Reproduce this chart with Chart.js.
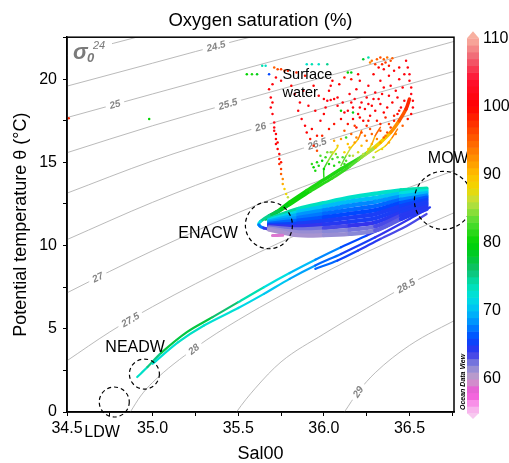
<!DOCTYPE html>
<html>
<head>
<meta charset="utf-8">
<script src="https://cdn.jsdelivr.net/npm/chart.js@4.4.1/dist/chart.umd.min.js"></script>
<style>
  html, body { margin: 0; padding: 0; background: #fff; }
</style>
</head>
<body>
<canvas id="tsChart" width="509" height="463"></canvas>
<script>
const FONT = "'Liberation Sans', Arial, Helvetica, sans-serif";

// isopycnals (sigma-0): [salinity, theta]
const sig240 = [[34.5,21.42],[34.77,22.15],[35.0,22.77],[35.5,24.04]];
const sig245 = [[34.5,19.58],[35.0,20.96],[35.5,22.34],[36.0,23.62]];
const sig250 = [[34.5,17.69],[35.0,19.11],[35.5,20.52],[36.0,21.91],[36.5,23.25],[36.8,24.03]];
const sig255 = [[34.5,15.58],[35.0,17.2],[35.5,18.68],[36.0,20.12],[36.5,21.53],[36.8,22.38]];
const sig260 = [[34.5,13.15],[35.0,15.09],[35.5,16.74],[36.0,18.27],[36.5,19.71],[36.8,20.58]];
const sig265 = [[34.5,10.36],[35.0,12.6],[35.5,14.56],[36.0,16.25],[36.5,17.84],[36.8,18.72]];
const sig270 = [[34.5,7.16],[34.75,8.45],[35.0,9.69],[35.5,11.98],[36.0,14.0],[36.5,15.81],[36.8,16.8]];
const sig275 = [[34.5,3.08],[34.75,4.81],[35.0,6.33],[35.5,8.99],[36.0,11.37],[36.5,13.5],[36.8,14.66]];
const sig280 = [[34.84,-0.5],[34.87,0],[34.93,0.96],[35.0,1.78],[35.25,3.86],[35.5,5.53],[36.0,8.36],[36.5,10.79],[36.8,12.15]];
const sig285 = [[35.46,-0.5],[35.49,0],[35.6,1.43],[35.75,3.01],[36.0,4.69],[36.25,6.23],[36.5,7.69],[36.8,9.2]];
const sig290 = [[36.1,-0.3],[36.12,0],[36.2,1.21],[36.3,2.36],[36.5,4.0],[36.8,5.7]];
const isoNames = ['24','24.5','25','25.5','26','26.5','27','27.5','28','28.5','29'];
const isoLines = [sig240, sig245, sig250, sig255, sig260, sig265, sig270, sig275, sig280, sig285, sig290];

// contour label spots (index into isoLines, salinity)
const isoLabelLevel = [1, 2, 3, 4, 5, 6, 7, 8, 9, 10];
const isoLabelS = [35.37, 34.78, 35.44, 35.63, 35.96, 34.68, 34.87, 35.24, 36.48, 36.2];

// oxygen saturation colour scale
const o2Stops = [55, 56.5, 58, 60, 62, 64, 66, 68, 70, 72, 74, 76, 78, 80, 83, 86, 88, 90, 92, 95, 98, 100, 104, 107, 110];
const o2Hex = ['#f8c8f0','#f890e8','#f050d8','#c8a0c8','#8888d8','#3434ec','#0048ff','#0088ff','#00bcf8','#00e0e0',
               '#00e0b0','#10c070','#00c830','#00d400','#50dc30','#c0e040','#f0d800','#ffc000','#ff9800','#ff6000',
               '#ff2800','#ff0000','#ff1030','#f06070','#f8b0a0'];
const cbTicks = [60, 70, 80, 90, 100, 110];

// ENACW / MOW body, one row per streak: [salinity, theta, O2 %]
const body0 = [[35.68,11.6,75],[35.85,12.2,74],[36.0,12.55,73],[36.15,12.88,73],[36.3,13.12,73],[36.45,13.32,73],[36.6,13.42,75]];
const body1 = [[35.68,11.53,72],[35.85,12.02,71],[36.0,12.34,70],[36.15,12.64,70],[36.3,12.87,70],[36.45,13.13,71],[36.6,13.28,73]];
const body2 = [[35.68,11.46,70],[35.85,11.85,69],[36.0,12.12,68],[36.15,12.4,68],[36.3,12.63,68],[36.45,12.94,69],[36.6,13.15,71]];
const body3 = [[35.68,11.38,69],[35.85,11.67,68],[36.0,11.91,67],[36.15,12.15,67],[36.3,12.38,67],[36.45,12.75,67],[36.6,13.01,69]];
const body4 = [[35.68,11.31,67],[35.85,11.5,67],[36.0,11.69,66],[36.15,11.91,66],[36.3,12.13,66],[36.45,12.56,66],[36.6,12.88,67]];
const body5 = [[35.68,11.24,66],[35.85,11.32,65],[36.0,11.48,65],[36.15,11.67,65],[36.3,11.89,65],[36.45,12.36,65],[36.6,12.74,66]];
const body6 = [[35.68,11.17,64],[35.85,11.15,64],[36.0,11.26,64],[36.15,11.43,65],[36.3,11.64,65],[36.45,12.17,65],[36.6,12.6,65]];
const body7 = [[35.68,11.1,63],[35.85,10.97,62],[36.0,11.05,63],[36.15,11.19,64],[36.3,11.39,64],[36.45,11.98,65],[36.6,12.47,65]];
const body8 = [[35.68,11.02,62],[35.85,10.8,61],[36.0,10.83,62],[36.15,10.94,62],[36.3,11.15,63],[36.45,11.79,64],[36.6,12.33,65]];
const body9 = [[35.68,10.95,61],[35.85,10.62,61],[36.0,10.62,61],[36.15,10.7,62],[36.3,10.9,62],[36.45,11.6,64],[36.6,12.2,65]];
const pinkPatch = [[35.7,10.6,58],[35.76,10.62,60]];
const nose = [[35.74,12.1,78],[35.68,11.8,76],[35.63,11.45,74],[35.62,11.25,70],[35.65,11.05,65],[35.72,10.95,63]];

// deep branch and thermocline: [salinity, theta, O2 %]
const deep1 = [[34.91,2.1,72],[34.97,2.7,74],[35.05,3.55,77],[35.2,4.8,78],[35.35,5.7,77],[35.5,6.6,75],[35.65,7.5,73],
               [35.8,8.35,71],[35.95,9.15,69],[36.1,9.9,67],[36.25,10.6,65],[36.4,11.3,64]];
const deep2 = [[35.0,2.9,72],[35.15,4.2,73],[35.3,5.2,73],[35.5,6.25,72],[35.65,7.1,71],[35.8,8.0,70],[35.95,8.8,68],
               [36.1,9.5,66],[36.3,10.5,64],[36.5,11.6,64],[36.62,12.3,65]];
const deep3 = [[35.95,8.6,68],[36.08,9.1,66],[36.2,9.7,65],[36.33,10.4,64],[36.47,11.1,63],[36.6,11.9,64]];
const thermo1 = [[35.66,11.6,76],[35.72,12.0,79],[35.8,12.6,80],[35.9,13.3,81],[36.0,13.95,81],[36.1,14.6,81],[36.2,15.2,82],
                 [36.27,15.7,85],[36.33,16.2,88],[36.39,16.8,91],[36.44,17.5,94],[36.48,18.2,97],[36.5,18.8,99]];
const thermo2 = [[35.7,11.8,78],[35.8,12.45,80],[35.92,13.25,81],[36.05,14.05,82],[36.15,14.75,82],[36.22,15.3,84],[36.3,15.9,87],[36.36,16.5,90]];
const fan1 = [[36.1,14.8,82],[36.13,15.4,85],[36.16,15.9,88],[36.2,16.4,91],[36.22,16.9,95]];
const fan2 = [[36.2,15.1,83],[36.25,15.6,86],[36.28,16.1,89],[36.3,16.6,93],[36.33,17.1,96]];
const fan3 = [[36.3,15.6,86],[36.36,16.0,89],[36.4,16.5,92],[36.43,17.0,95]];
const fan4 = [[36.0,14.1,81],[36.0,14.6,82],[36.02,15.0,83],[36.05,15.5,86],[36.08,15.9,89]];

// surface samples: [salinity, theta, O2 %]
const surfaceDots = [
  [35.68,19.4,101],[35.69,18.9,101],[35.69,18.3,101],[35.70,17.9,101],[35.71,17.4,102],[35.71,17.1,101],[35.72,16.7,101],
  [35.72,16.4,100],[35.72,16.1,101],[35.73,15.8,100],[35.74,15.5,100],[35.74,15.2,99],[35.74,14.9,98],[35.75,14.6,97],
  [35.75,14.3,95],[35.76,14.0,93],[35.76,13.7,91],[35.77,13.4,89],[35.78,13.1,88],[35.79,12.9,86],
  [35.70,18.6,100],[35.71,16.9,101],[35.73,16.2,100],[35.75,15.0,99],
  [35.71,20.7,95],[35.73,20.6,96],[35.75,20.6,97],[35.77,20.5,96],[35.79,20.5,98],[35.72,20.1,101],[35.70,19.7,101],[35.75,19.9,101],
  [35.55,20.3,80],[35.58,20.3,81],[35.61,20.3,79],[35.64,20.8,74],[35.66,20.8,73],[35.68,20.3,66],
  [35.90,20.9,73],[35.93,20.9,74],[35.97,20.9,73],[36.02,20.9,75],[36.14,20.4,80],[36.16,20.4,79],[36.23,21.2,78],[36.26,21.3,74],
  [36.28,21.1,94],[36.31,21.2,95],[36.33,21.3,96],[36.35,21.2,95],[36.37,21.3,94],[36.39,21.1,96],[36.36,21.0,97],[36.34,20.9,98],
  [36.30,20.9,97],[36.27,21.0,93],[36.40,21.25,95],[36.32,20.7,100],[36.35,20.6,101],[36.38,20.8,99],[36.41,20.5,101],
  [36.48,21.1,101],[36.49,20.7,101],[36.50,20.3,102],[36.50,19.9,101],[36.51,19.5,101],[36.51,19.1,102],[36.52,18.7,101],
  [36.52,18.3,101],[36.51,17.9,100],[36.49,17.6,99],
  [36.47,18.7,101],[36.45,18.3,101],[36.43,17.9,100],[36.41,17.5,99],[36.39,17.1,97],[36.37,16.8,96],[36.35,16.5,95],
  [36.15,19.1,101],[36.18,18.8,102],[36.22,18.6,101],[36.25,18.9,101],[36.28,18.4,100],[36.30,18.1,101],[36.33,18.5,101],
  [36.35,18.0,100],[36.27,17.8,101],[36.23,17.5,100],[36.20,17.9,101],[36.17,18.3,101],[36.12,18.0,101],[36.10,17.6,100],
  [36.14,17.3,99],[36.19,17.1,99],[36.25,17.2,98],[36.31,17.5,99],[36.36,17.7,98],[36.30,19.2,101],[36.35,19.5,101],
  [36.38,19.0,101],[36.40,18.6,100],[36.26,19.6,101],[36.21,19.9,101],[36.33,19.9,101],[36.38,20.2,101],[36.29,20.3,100],
  [36.24,18.2,101],[36.32,18.8,101],[36.37,18.3,100],[36.42,19.3,101],[36.44,20.0,101],[36.19,19.4,101],[36.09,19.7,100],[36.12,20.1,99],
  [36.16,18.6,101],[36.21,18.3,101],[36.26,18.5,101],[36.29,18.8,101],[36.34,19.1,101],[36.39,19.6,101],[36.43,18.9,101],
  [36.46,19.5,101],[36.47,20.3,101],[36.44,20.7,100],[36.24,19.2,101],[36.20,20.3,100],[36.16,20.0,99],[36.08,18.4,101],
  [36.11,18.6,101],[36.14,18.1,101],[36.06,17.3,99],[36.03,17.0,99],[35.99,16.6,98],[36.26,17.5,99],[36.33,17.3,98],
  [36.21,17.7,100],[36.17,17.6,100],[35.95,18.1,101],[35.97,19.0,101],[35.94,19.6,100],[35.89,20.2,99],[35.84,20.4,98],
  [36.00,18.8,101],[36.02,18.7,102],[36.04,18.75,102],[36.06,18.8,101],[36.08,18.9,101],[36.03,19.3,101],[36.04,19.6,101],
  [36.05,19.9,100],[36.01,18.3,101],[36.00,17.9,100],[35.98,17.5,101],
  [35.85,18.1,101],[35.87,17.6,101],[35.89,17.2,101],[35.90,16.8,100],[35.92,16.4,99],[35.94,16.0,98],[35.96,15.7,96],
  [35.86,18.6,101],[35.83,19.1,101],[35.81,19.6,100],[35.93,17.0,100],[35.96,16.6,99],[35.88,19.3,101],[35.91,18.4,101],
  [36.12,15.6,88],[36.15,15.9,90],[36.18,16.2,92],[36.22,16.0,90],[36.25,16.3,93],[36.28,16.1,91],[36.31,16.4,93],
  [36.33,16.2,92],[36.36,16.6,94],[36.20,15.6,87],[36.26,15.8,89],[36.30,15.9,90],[36.05,15.6,86],[36.08,16.0,89],
  [36.10,16.4,92],[36.16,16.7,95],[36.22,16.8,96],[36.28,16.7,95],
  [36.14,16.1,90],[36.19,16.5,93],[36.24,16.6,94],[36.27,17.0,96],[36.33,16.9,96],[36.38,17.3,97],[36.41,17.8,98],
  [36.44,18.1,99],[36.17,15.4,86],[36.23,15.5,86],[36.29,15.3,85],[36.34,15.8,88],[36.38,16.2,91],[36.42,16.7,93],
  [36.46,17.2,95],[36.06,16.3,91],[36.12,16.9,95],[36.18,17.2,97],
  [35.97,14.8,81],[35.99,15.1,80],[36.01,15.3,82],[36.03,14.9,81],[36.05,15.2,82],[36.07,15.5,84],[36.09,15.0,82],
  [36.11,15.3,83],[36.00,14.6,80],[35.95,14.5,81],[36.13,15.1,83],[36.04,15.6,85],[35.93,14.9,82],[35.98,15.4,83],
  [35.96,15.0,81],[36.02,15.6,84],[36.06,14.8,81],[36.08,15.3,83],[35.94,14.7,80],[36.12,14.9,82],[36.15,15.4,84],
  [36.10,18.1,80],[36.17,18.0,79],[36.13,16.5,82],
  [34.51,17.65,98],[34.98,17.6,80]
];

// water mass annotations
const massNames = ['Surface', 'water', 'MOW', 'ENACW', 'NEADW', 'LDW'];
const massNameS = [35.758, 35.758, 36.607, 35.15, 34.724, 34.601];
const massNameT = [20.22, 19.14, 15.24, 10.74, 3.84, -1.26];
const circleS = [35.679, 36.698, 34.952, 34.776];
const circleT = [11.22, 12.72, 2.28, 0.6];
const circleR = [23.5, 29, 15, 15];

function hexRgb(h) {
  return [parseInt(h.slice(1, 3), 16), parseInt(h.slice(3, 5), 16), parseInt(h.slice(5, 7), 16)];
}
const o2Rgb = o2Hex.map(hexRgb);

function o2Color(v) {
  if (v <= o2Stops[0]) return o2Hex[0];
  for (let i = 1; i < o2Stops.length; i++) {
    if (v <= o2Stops[i]) {
      const f = (v - o2Stops[i - 1]) / (o2Stops[i] - o2Stops[i - 1]);
      const a = o2Rgb[i - 1], b = o2Rgb[i];
      return `rgb(${Math.round(a[0] + (b[0] - a[0]) * f)},${Math.round(a[1] + (b[1] - a[1]) * f)},${Math.round(a[2] + (b[2] - a[2]) * f)})`;
    }
  }
  return o2Hex[o2Hex.length - 1];
}

function trackSet(trk, width) {
  return {
    data: trk.map(p => ({ x: p[0], y: p[1] })),
    borderColor: o2Color(trk[0][2]),
    borderWidth: width,
    pointRadius: 0,
    tension: 0.3,
    borderCapStyle: 'round',
    borderJoinStyle: 'round',
    order: 5,
    segment: {
      borderColor: c => o2Color((trk[c.p0DataIndex][2] + trk[c.p1DataIndex][2]) / 2)
    }
  };
}

const datasets = [];
isoLines.forEach(line => {
  datasets.push({
    data: line.map(p => ({ x: p[0], y: p[1] })),
    borderColor: '#a8a8a8',
    borderWidth: 0.8,
    pointRadius: 0,
    cubicInterpolationMode: 'monotone',
    order: 10
  });
});
// lower index = drawn later (on top)
datasets.push(trackSet(pinkPatch, 3));
[body9, body8, body7, body6, body5, body4, body3, body2, body1, body0].forEach(t => datasets.push(trackSet(t, 4.2)));
datasets.push(trackSet(nose, 3));
[deep3, deep2, deep1].forEach(t => datasets.push(trackSet(t, 2.2)));
[fan1, fan2, fan3, fan4].forEach(t => datasets.push(trackSet(t, 1.5)));
datasets.push(trackSet(thermo2, 2.8));
datasets.push(trackSet(thermo1, 3.5));
datasets.push({
  data: surfaceDots.map(p => ({ x: p[0], y: p[1] })),
  showLine: false,
  pointRadius: 1.25,
  pointBorderWidth: 0,
  pointBackgroundColor: surfaceDots.map(p => o2Color(p[2])),
  order: 0
});

const decor = {
  id: 'decor',
  afterDatasetDraw(chart, args) {
    if (args.index !== 0) return;
    // contour labels, drawn over the isopycnals but under the samples
    const { ctx, chartArea: ca } = chart;
    const xs = chart.scales.x, ys = chart.scales.y;
    ctx.save();
    ctx.font = `italic bold 10px ${FONT}`;
    ctx.textAlign = 'center';
    ctx.textBaseline = 'middle';
    isoLabelLevel.forEach((lv, i) => {
      const line = isoLines[lv];
      const s = isoLabelS[i];
      let k = 0;
      while (k < line.length - 2 && line[k + 1][0] < s) k++;
      const f = (s - line[k][0]) / (line[k + 1][0] - line[k][0]);
      const t = line[k][1] + (line[k + 1][1] - line[k][1]) * f;
      const ax = xs.getPixelForValue(line[k][0]), ay = ys.getPixelForValue(line[k][1]);
      const bx = xs.getPixelForValue(line[k + 1][0]), by = ys.getPixelForValue(line[k + 1][1]);
      ctx.save();
      ctx.translate(xs.getPixelForValue(s), ys.getPixelForValue(t));
      ctx.rotate(Math.atan2(by - ay, bx - ax));
      const w = ctx.measureText(isoNames[lv]).width + 8;
      ctx.fillStyle = '#fff';
      ctx.fillRect(-w / 2, -6, w, 12);
      ctx.fillStyle = '#858585';
      ctx.fillText(isoNames[lv], 0, 0.5);
      ctx.restore();
    });
    // sigma-0 key at top left (also labels the 24 line)
    ctx.fillStyle = '#fff';
    ctx.fillRect(ca.left + 1, ca.top + 1, 44, 25);
    ctx.fillStyle = '#7a7a7a';
    ctx.textAlign = 'left';
    ctx.textBaseline = 'alphabetic';
    ctx.font = `italic bold 22px ${FONT}`;
    ctx.fillText('σ', ca.left + 6, ca.top + 22);
    ctx.font = `italic bold 13px ${FONT}`;
    ctx.fillText('0', ca.left + 20, ca.top + 25);
    ctx.font = `italic 11px ${FONT}`;
    ctx.fillText('24', ca.left + 26, ca.top + 12);
    ctx.restore();
  },
  afterDraw(chart) {
    const { ctx, chartArea: ca } = chart;
    const xs = chart.scales.x, ys = chart.scales.y;
    ctx.save();
    // frame
    ctx.strokeStyle = '#000';
    ctx.lineWidth = 1.5;
    ctx.strokeRect(ca.left, ca.top, ca.right - ca.left, ca.bottom - ca.top);

    // dashed circles
    ctx.lineWidth = 1.2;
    ctx.setLineDash([4, 3]);
    circleS.forEach((s, i) => {
      ctx.beginPath();
      ctx.arc(xs.getPixelForValue(s), ys.getPixelForValue(circleT[i]), circleR[i], 0, Math.PI * 2);
      ctx.stroke();
    });
    ctx.setLineDash([]);

    // water mass names
    ctx.fillStyle = '#000';
    ctx.textAlign = 'left';
    ctx.textBaseline = 'middle';
    massNames.forEach((n, i) => {
      ctx.font = `${i < 2 ? 14.5 : 16}px ${FONT}`;
      ctx.fillText(n, xs.getPixelForValue(massNameS[i]), ys.getPixelForValue(massNameT[i]));
    });

    // colour bar
    const x0 = ca.right + 13, w = 12;
    const top = ca.top + 1, bot = ca.bottom + 1;
    const vy = v => bot - (v - 55) * (bot - top) / 55;
    for (let v = 55; v < 110; v++) {
      ctx.fillStyle = o2Color(v + 0.5);
      ctx.fillRect(x0, vy(v + 1), w, vy(v) - vy(v + 1) + 0.6);
    }
    ctx.fillStyle = o2Color(110);
    ctx.beginPath();
    ctx.moveTo(x0, top); ctx.lineTo(x0 + w, top); ctx.lineTo(x0 + w / 2, top - 7); ctx.closePath();
    ctx.fill();
    ctx.fillStyle = o2Color(55);
    ctx.beginPath();
    ctx.moveTo(x0, bot); ctx.lineTo(x0 + w, bot); ctx.lineTo(x0 + w / 2, bot + 6); ctx.closePath();
    ctx.fill();
    ctx.fillStyle = '#000';
    ctx.font = `16px ${FONT}`;
    ctx.textAlign = 'left';
    ctx.textBaseline = 'middle';
    cbTicks.forEach(v => ctx.fillText(String(v), x0 + w + 4, vy(v)));

    // ODV credit
    ctx.save();
    ctx.translate(ca.right + 9.5, ca.bottom - 2);
    ctx.rotate(-Math.PI / 2);
    ctx.font = `italic bold 7px ${FONT}`;
    ctx.textBaseline = 'middle';
    ctx.fillText('Ocean Data View', 0, 0);
    ctx.restore();
    ctx.restore();
  }
};

new Chart(document.getElementById('tsChart'), {
  type: 'line',
  data: { datasets },
  plugins: [decor],
  options: {
    responsive: false,
    animation: false,
    layout: { padding: { left: 0, right: 55, top: 0, bottom: 0 } },
    plugins: {
      legend: { display: false },
      tooltip: { enabled: false },
      title: {
        display: true,
        fullSize: false,
        text: 'Oxygen saturation (%)',
        color: '#000',
        font: { family: FONT, size: 18.5, weight: 'normal' },
        padding: { top: 10, bottom: 5 }
      }
    },
    scales: {
      x: {
        type: 'linear',
        min: 34.5,
        max: 36.76,
        afterFit: s => { s.height = 51; },
        border: { display: true, color: '#000', width: 1.5 },
        grid: { drawOnChartArea: false, drawTicks: true, tickLength: 4, color: '#000' },
        ticks: {
          stepSize: 0.25,
          autoSkip: false,
          includeBounds: false,
          maxRotation: 0,
          color: '#000',
          padding: 3,
          font: { family: FONT, size: 16 },
          callback: v => (Math.abs(v * 2 - Math.round(v * 2)) < 1e-6 ? v.toFixed(1) : '')
        },
        title: {
          display: true,
          text: 'Sal00',
          color: '#000',
          font: { family: FONT, size: 18, lineHeight: 1 },
          padding: { top: 0, bottom: 0 }
        }
      },
      y: {
        min: 0,
        max: 22.52,
        afterFit: s => { s.width = 67; },
        border: { display: true, color: '#000', width: 1.5 },
        grid: { drawOnChartArea: false, drawTicks: true, tickLength: 4, color: '#000' },
        ticks: {
          stepSize: 2.5,
          autoSkip: false,
          includeBounds: false,
          color: '#000',
          padding: 6,
          font: { family: FONT, size: 16 },
          callback: v => (Math.abs(v % 5) < 1e-6 ? String(v) : '')
        },
        title: {
          display: true,
          text: 'Potential temperature θ (°C)',
          color: '#000',
          font: { family: FONT, size: 18 },
          padding: { top: 10, bottom: 0 }
        }
      }
    }
  }
});
</script>
</body>
</html>
